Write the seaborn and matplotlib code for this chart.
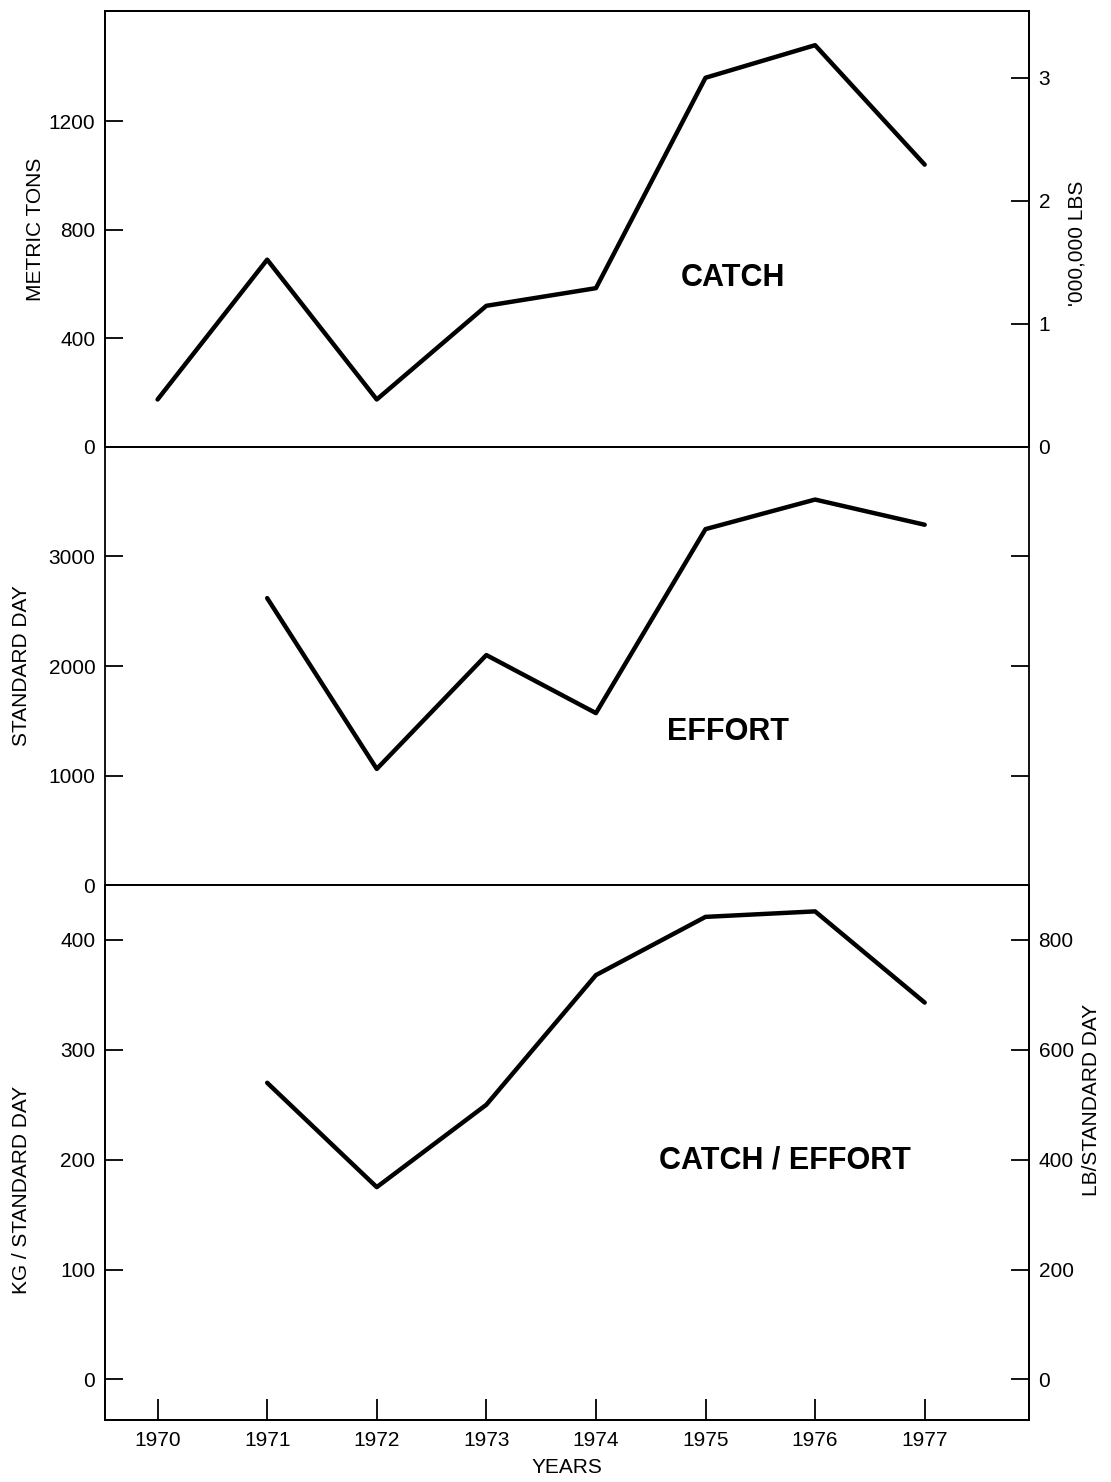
import seaborn as sns
import matplotlib.pyplot as plt
import pandas as pd

years = [1970, 1971, 1972, 1973, 1974, 1975, 1976, 1977]
catch_t = [175, 690, 175, 520, 585, 1360, 1480, 1040]

effort_years = [1971, 1972, 1973, 1974, 1975, 1976, 1977]
effort_days = [2620, 1060, 2100, 1570, 3250, 3520, 3290]

cpue_years = [1971, 1972, 1973, 1974, 1975, 1976, 1977]
cpue_kg = [270, 175, 250, 368, 421, 426, 343]

sns.set_style("ticks")
plt.rcParams["font.family"] = ["Liberation Sans", "DejaVu Sans"]
plt.rcParams["axes.edgecolor"] = "black"
plt.rcParams["axes.linewidth"] = 1.3
plt.rcParams["text.color"] = "black"
plt.rcParams["axes.labelcolor"] = "black"
plt.rcParams["xtick.color"] = "black"
plt.rcParams["ytick.color"] = "black"

catch_df = pd.DataFrame({"year": years, "catch": catch_t})
effort_df = pd.DataFrame({"year": effort_years, "effort": effort_days})
cpue_df = pd.DataFrame({"year": cpue_years, "cpue": cpue_kg})

fig, axes = plt.subplots(
    3, 1, figsize=(11.11, 14.82), dpi=100, sharex=True,
    gridspec_kw={"height_ratios": [436, 438, 535]},
)
fig.subplots_adjust(left=0.0945, right=0.926, top=0.9926, bottom=0.0418, hspace=0)

line_kw = dict(color="black", linewidth=3.2)
tick_kw = dict(direction="in", length=13, width=1.3, labelsize=15, pad=7)

# catch
ax = axes[0]
sns.lineplot(data=catch_df, x="year", y="catch", ax=ax, **line_kw)
ax.set_xlim(1969.52, 1977.95)
ax.set_ylim(0, 1606)
ax.set_yticks([0, 400, 800, 1200])
ax.set_ylabel("METRIC TONS", fontsize=15)
ax.yaxis.set_label_coords(-0.065, 0.5)
ax.tick_params(axis="y", **tick_kw)
ax.tick_params(axis="x", bottom=False, labelbottom=False)
ax.text(0.68, 0.388, "CATCH", transform=ax.transAxes, ha="center", va="center",
        fontsize=22, fontweight="bold")
axr = ax.twinx()
axr.set_ylim(0, 1606 / 453.6)
axr.set_yticks([0, 1, 2, 3])
axr.tick_params(axis="y", **tick_kw)
axr.set_ylabel("'000,000 LBS", fontsize=15)
axr.yaxis.set_label_coords(1.042, 0.468)

# effort
ax = axes[1]
sns.lineplot(data=effort_df, x="year", y="effort", ax=ax, **line_kw)
ax.set_ylim(0, 4000)
ax.set_yticks([0, 1000, 2000, 3000])
ax.set_ylabel("STANDARD DAY", fontsize=15)
ax.yaxis.set_label_coords(-0.08, 0.5)
ax.tick_params(axis="y", right=True, **tick_kw)
ax.tick_params(axis="x", bottom=False, labelbottom=False)
ax.text(0.674, 0.349, "EFFORT", transform=ax.transAxes, ha="center", va="center",
        fontsize=22, fontweight="bold")

# catch per effort
ax = axes[2]
sns.lineplot(data=cpue_df, x="year", y="cpue", ax=ax, **line_kw)
ax.set_ylim(-37, 450)
ax.set_yticks([0, 100, 200, 300, 400])
ax.set_ylabel("KG / STANDARD DAY", fontsize=15)
ax.yaxis.set_label_coords(-0.08, 0.43)
ax.tick_params(axis="y", **tick_kw)
ax.set_xticks(years)
ax.set_xticklabels([str(y) for y in years])
ax.tick_params(axis="x", direction="in", length=15, width=1.3, labelsize=15, pad=8)
ax.set_xlabel("YEARS", fontsize=15, labelpad=6)
ax.text(0.736, 0.486, "CATCH / EFFORT", transform=ax.transAxes, ha="center",
        va="center", fontsize=22, fontweight="bold")
axr = ax.twinx()
axr.set_ylim(-37 * 2, 450 * 2)
axr.set_yticks([0, 200, 400, 600, 800])
axr.tick_params(axis="y", **tick_kw)
axr.set_ylabel("LB/STANDARD DAY", fontsize=15)
axr.yaxis.set_label_coords(1.058, 0.598)

plt.savefig("out.png", dpi=100)
